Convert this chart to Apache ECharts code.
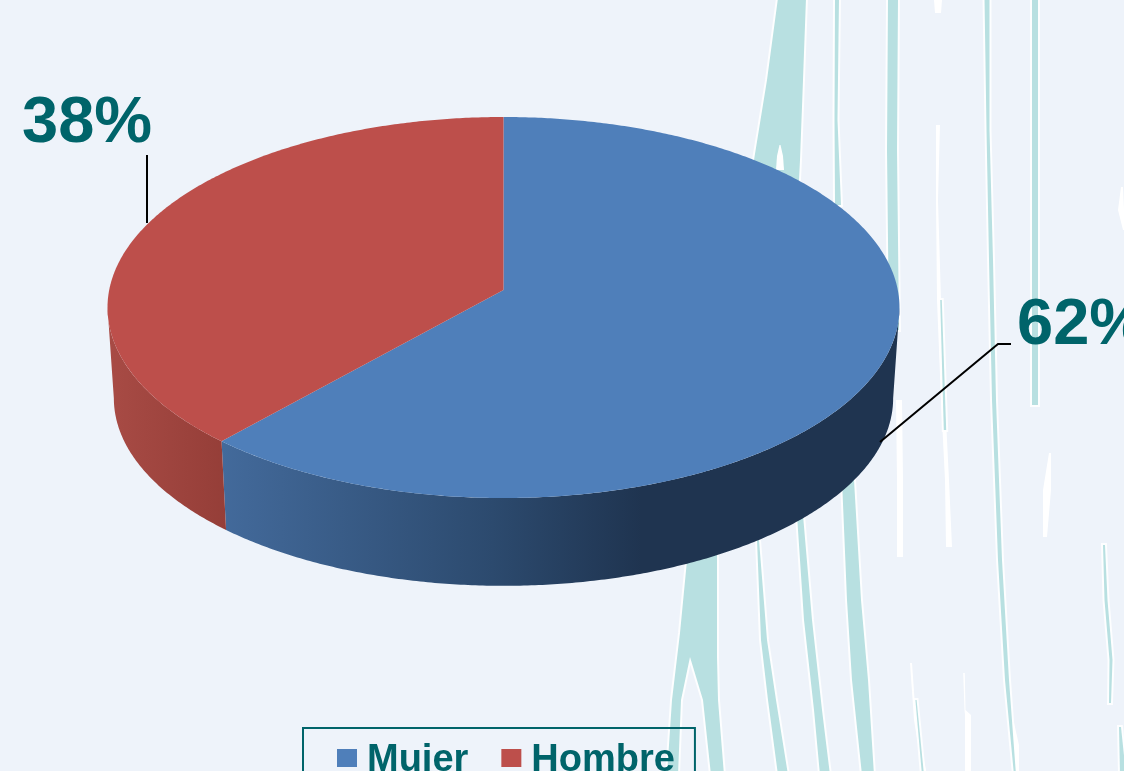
<!DOCTYPE html>
<html><head><meta charset="utf-8">
<style>html,body{margin:0;padding:0;background:#EEF3FA;overflow:hidden}#c{width:1124px;height:771px;filter:blur(0.5px)}</style>
<script src="https://cdn.jsdelivr.net/npm/echarts@6/dist/echarts.min.js"></script>
</head><body><div id="c"></div>
<script>
// --- data ---
const categories = ['Mujer', 'Hombre'];
const values = [61.6, 38.4];            // shares read from the slice boundary; labels round to 62 % / 38 %
const sliceColors = ['#4F7FBA', '#BD4F4B'];

// --- presentation ---
const TEAL = '#00646A';
const FONT = 'bold 65px "Liberation Sans", Arial, sans-serif';
const top3d = {cx: 503.5, y0: 290, a: 394.3, b: 188.9};
const bot3d = {cx: 503.5, y0: 381, a: 388, b: 186};
const K = 0.0919;
const sideFills = [
  {stops: [[0, '#436A9B'], [0.4, '#2C4A6E'], [0.62, '#1F3450'], [1, '#1F3450']]},
  {stops: [[0, '#A84B45'], [1, '#953E38']]}
];
const labelStyle = [
  {x: 1017, y: 326, line: [[1011, 344], [998, 344], [880, 442]]},
  {x: 22, y: 124, line: [[147, 155], [147, 223]]}
];
// decorative background: teal shapes with a soft white rim, and plain white flecks
const tealShapes = [
  [[688, 550], [717, 550], [717, 657], [718, 700], [724, 775], [711, 775], [703, 700], [690, 657], [681, 700], [678, 775], [667, 775], [672, 700], [680, 633]]
];
const tealStreaks = [
  [[792, -2, 14], [785, 80, 18], [777, 160, 23], [775, 200, 23]],
  [[837, -2, 2], [836, 120, 1.5], [838, 205, 3]],
  [[893, -2, 5], [892, 150, 5], [894, 330, 5]],
  [[987, -2, 2.5], [988, 130, 1.5], [991, 260, 2], [994, 400, 2], [1000, 560, 2], [1007, 680, 2], [1015, 775, 1]],
  [[1035, -2, 3], [1035, 200, 3], [1035, 405, 3]],
  [[1104, 545, 1], [1106, 600, 1.5], [1111, 660, 1.5], [1110, 703, 1]],
  [[758, 540, 1], [764, 640, 3], [772, 700, 4], [783, 775, 5]],
  [[800, 515, 3], [808, 620, 4], [818, 710, 4], [825, 775, 5]],
  [[848, 480, 6], [854, 600, 7], [860, 680, 8], [868, 775, 6]],
  [[941, 300, .8], [945, 430, 1.2]],
  [[916, 700, .6], [923, 775, 1]],
  [[1120, 727, 1], [1123, 775, 3]]
];
const whiteFlecks = [
  [[780, 145, .5], [780, 156, 3], [780, 170, 4]],
  [[899, 400, 3], [900, 480, 3], [900, 557, 3]],
  [[938, 125, 2], [937, 200, 1], [939, 300, 2], [943, 400, 2], [947, 480, 2], [949, 547, 3]],
  [[938, 0, 4], [938, 13, 3]],
  [[1050, 453, 1], [1047, 490, 4], [1045, 537, 2]],
  [[1122, 187, 1], [1121, 210, 3], [1124, 230, 1]],
  [[911, 663, 1], [915, 720, 1], [925, 775, 2]],
  [[964, 673, .8], [965, 710, .5], [968, 715, 3], [968, 775, 3]],
  [[1012, 723, 2], [1015, 745, 4], [1017, 775, 2]]
];
function ribbon(p) {
  const l = p.map(q => [q[0] - q[2], q[1]]);
  const r = p.map(q => [q[0] + q[2], q[1]]).reverse();
  return l.concat(r);
}
const graphicEls = [];
const tealPolys = tealShapes.concat(tealStreaks.map(ribbon));
tealPolys.forEach(pts => graphicEls.push({
  type: 'polygon', silent: true, z: 0, shape: {points: pts},
  style: {fill: '#FFFFFF', stroke: 'rgba(255,255,255,0.85)', lineWidth: 4}
}));
whiteFlecks.forEach(p => graphicEls.push({type: 'polygon', silent: true, z: 1, shape: {points: ribbon(p)}, style: {fill: '#FFFFFF'}}));
tealPolys.forEach(pts => graphicEls.push({
  type: 'polygon', silent: true, z: 1, shape: {points: pts},
  style: {fill: '#B8E0E1'}
}));
// the notch fleck sits on top of the wide streak
graphicEls.push({type: 'polygon', silent: true, z: 1, shape: {points: ribbon(whiteFlecks[0])}, style: {fill: '#FFFFFF'}});

// --- projection of the disc ---
function proj(face, deg) {
  const t = deg * Math.PI / 180, u = Math.sin(t), v = -Math.cos(t), d = 1 - K * v;
  return [face.cx + face.a * u / d, face.y0 + face.b * v / d];
}
function arc(face, from, to) {
  const pts = [], n = Math.max(2, Math.ceil(Math.abs(to - from) * 2));
  for (let i = 0; i <= n; i++) pts.push(proj(face, from + (to - from) * i / n));
  return pts;
}
const total = values.reduce((a, b) => a + b, 0);
const visLo = Math.acos(-K) * 180 / Math.PI, visHi = 360 - visLo;

function renderSlice(params, api) {
  const idx = params.seriesIndex;
  const val = api.value(0);
  const before = values.slice(0, idx).reduce((a, b) => a + b, 0);
  const start = before / total * 360, end = (before + val) / total * 360;
  const children = [];
  const lo = Math.max(start, visLo), hi = Math.min(end, visHi);
  if (hi > lo) {
    const poly = arc(top3d, lo, hi).concat(arc(bot3d, hi, lo));
    children.push({type: 'polygon', z2: 1, shape: {points: poly}, style: {
      fill: new echarts.graphic.LinearGradient(0, 0, 1, 0, sideFills[idx].stops.map(s => ({offset: s[0], color: s[1]})))
    }});
  }
  children.push({type: 'polygon', z2: 2, shape: {points: [[top3d.cx, top3d.y0]].concat(arc(top3d, start, end))}, style: {fill: sliceColors[idx]}});
  const ls = labelStyle[idx];
  children.push({type: 'polyline', z2: 3, shape: {points: ls.line}, style: {stroke: '#000', lineWidth: 2, fill: 'none'}});
  children.push({type: 'text', z2: 3, style: {x: ls.x, y: ls.y, text: Math.round(val / total * 100) + '%', font: FONT, fill: TEAL, align: 'left', verticalAlign: 'middle'}});
  return {type: 'group', children};
}

const chart = echarts.init(document.getElementById('c'), null, {renderer: 'canvas'});
chart.setOption({
  backgroundColor: '#EEF3FA',
  animation: false,
  color: sliceColors,
  graphic: {elements: graphicEls},
  legend: {
    data: categories, left: 303, top: 728, orient: 'horizontal', icon: 'rect', selectedMode: false,
    itemWidth: 20, itemHeight: 18, itemGap: 33,
    padding: [14, 20, 20, 34], borderColor: '#00646A', borderWidth: 2,
    formatter: '{t|{name}}',
    textStyle: {
      color: TEAL, fontFamily: '"Liberation Sans", Arial, sans-serif', fontWeight: 'bold', fontSize: 38, padding: [0, 0, 0, 5],
      rich: {t: {color: TEAL, fontFamily: '"Liberation Sans", Arial, sans-serif', fontWeight: 'bold', fontSize: 38, padding: [6, 0, 0, 0]}}
    }
  },
  series: categories.map((name, i) => ({
    type: 'custom', name, coordinateSystem: 'none', clip: false, silent: true,
    itemStyle: {color: sliceColors[i]},
    renderItem: renderSlice,
    data: [[values[i]]]
  }))
});
</script></body></html>
